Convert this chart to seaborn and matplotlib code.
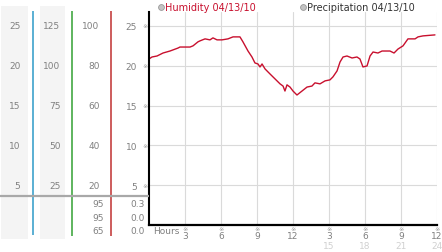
import matplotlib
matplotlib.use("Agg")
import matplotlib.pyplot as plt
from matplotlib.lines import Line2D
from matplotlib.patches import Rectangle
import seaborn as sns

# ---- data ----
hours = [0.0, 0.25, 0.67, 1.17, 1.75, 2.42, 2.58, 3.42, 3.67, 4.08, 4.25, 4.67,
         5.08, 5.33, 5.67, 6.08, 6.58, 7.0, 7.58, 7.83, 8.25, 8.58, 8.83, 9.08,
         9.25, 9.42, 9.67, 10.08, 10.5, 10.92, 11.17, 11.33, 11.5, 11.75, 12.0,
         12.33, 12.75, 13.17, 13.58, 13.83, 14.25, 14.67, 15.08, 15.33, 15.67,
         15.92, 16.17, 16.5, 16.92, 17.33, 17.58, 17.83, 18.17, 18.42, 18.67,
         19.08, 19.42, 19.67, 20.08, 20.42, 20.75, 21.17, 21.58, 22.17, 22.42,
         22.83, 23.83]
humidity = [83.4, 84.4, 84.9, 86.4, 87.4, 88.9, 89.4, 89.4, 90.0, 92.0, 92.5, 93.5,
            93.0, 94.0, 93.0, 93.0, 93.5, 94.5, 94.5, 92.0, 87.4, 84.4, 81.4, 80.9,
            79.4, 80.9, 78.4, 75.9, 73.4, 70.9, 69.8, 67.3, 70.4, 69.3, 67.3,
            65.3, 67.3, 69.3, 69.8, 71.4, 70.9, 72.4, 72.9, 74.4, 77.4,
            81.9, 84.4, 84.9, 83.9, 84.4, 83.4, 79.4, 79.9, 84.9, 86.9,
            86.4, 87.4, 87.4, 87.4, 86.4, 88.4, 90.0, 93.5, 93.5, 94.5,
            95.0, 95.5]

scale_a = [5, 10, 15, 20, 25]          # first column and main axis
scale_b = [25, 50, 75, 100, 125]       # second column
scale_c = [20, 40, 60, 80, 100]        # third column (humidity %)
x_ticks = [3, 6, 9, 12, 15, 18, 21, 24]
x_labels = ["3", "6", "9", "12", "3", "6", "9", "12"]
x_labels2 = ["", "", "", "", "15", "18", "21", "24"]
hum_readings = ["95", "95", "65"]
precip_readings = ["0.3", "0.0", "0.0"]
legend_labels = ["Humidity 04/13/10", "Precipitation 04/13/10"]

# ---- layout (pixels) ----
W, H = 442, 253
AX_L, AX_R, AX_T, AX_B = 149, 437, 13, 226
YMAX = 107.0
XMAX = 24.0

def py(px):
    return YMAX * (AX_B - px) / (AX_B - AX_T)

def fy(px):
    return (AX_B - px) / (AX_B - AX_T)

sns.set_theme(style="white")
plt.rcParams['font.family'] = ['DejaVu Sans']
FS = 6.5
GRAY = "#808080"
RED = "#c8102e"
MARK = "#9a9a9a"

fig = plt.figure(figsize=(W / 100, H / 100), dpi=100)
fig.patch.set_facecolor("white")

ax = fig.add_axes([AX_L / W, (H - AX_B) / H, (AX_R - AX_L) / W, (AX_B - AX_T) / H])
ax.set_facecolor("white")
sns.lineplot(x=hours, y=humidity, ax=ax, color=RED, linewidth=1.0)
ax.set_xlim(0, XMAX)
ax.set_ylim(0, YMAX)
ax.set_yticks(scale_c, labels=[str(v) for v in scale_a])
ax.set_xticks(x_ticks, labels=x_labels)
ax.tick_params(axis='y', length=0, pad=8.6, labelsize=FS, labelcolor=GRAY)
ax.tick_params(axis='x', length=0, pad=4.6, labelsize=FS, labelcolor=GRAY)
ax.grid(True, color="#dadada", linewidth=0.8)
for s in ["top", "right"]:
    ax.spines[s].set_visible(False)
ax.spines["left"].set_color("black")
ax.spines["left"].set_linewidth(1.5)
ax.spines["bottom"].set_color("black")
ax.spines["bottom"].set_linewidth(1.6)
ax.set_xlabel("")
ax.set_ylabel("")

# x tick marks (※) and second row labels
xt = ax.get_xaxis_transform()
for t, l2 in zip(x_ticks, x_labels2):
    ax.text(t, fy(229.4), "※", transform=xt, ha="center", va="center",
            fontsize=4.6, color=MARK, clip_on=False)
    if l2:
        ax.text(t, fy(246.5), l2, transform=xt, ha="center", va="center",
                fontsize=FS, color="#d0d0d0", clip_on=False)
ax.text(4 / (AX_R - AX_L), fy(231.5), "Hours", transform=ax.transAxes,
        ha="left", va="center", fontsize=FS, color=GRAY, clip_on=False)

# ---- side panel ----
side = fig.add_axes([0, 0, AX_L / W, 1])
side.set_xlim(0, AX_L)
side.set_ylim(py(H), py(0))
side.axis("off")
side.add_patch(Rectangle((1, py(240)), 27, py(7) - py(240), color="#f4f4f4", lw=0))
side.add_patch(Rectangle((40, py(240)), 25, py(7) - py(240), color="#f4f4f4", lw=0))
for xc, col, bot in [(33, "#2e9ac8", 236), (72, "#33a033", 237), (111, "#c03030", 237)]:
    side.plot([xc, xc], [py(12), py(bot)], color=col, lw=1.1, solid_capstyle="butt")
side.plot([0, AX_L], [py(197), py(197)], color="#a8a8a8", lw=1.6, solid_capstyle="butt")

for pos, a, b in zip(scale_c, scale_a, scale_b):
    side.text(20.5, pos, str(a), ha="right", va="center", fontsize=FS, color=GRAY)
    side.text(60.5, pos, str(b), ha="right", va="center", fontsize=FS, color=GRAY)
    side.text(99.5, pos, str(pos), ha="right", va="center", fontsize=FS, color=GRAY)
    side.text(145.5, pos, "※", ha="center", va="center", fontsize=4.6, color=MARK)

for ypx, h, p in zip([205, 218.5, 232], hum_readings, precip_readings):
    side.text(104, py(ypx), h, ha="right", va="center", fontsize=FS, color=GRAY)
    side.text(144.5, py(ypx), p, ha="right", va="center", fontsize=FS, color=GRAY)

# ---- legend ----
for mx, lab, col in [(161, legend_labels[0], RED), (303, legend_labels[1], "#333333")]:
    fig.add_artist(Line2D([mx / W], [1 - 7.5 / H], marker="o", markersize=4.2,
                          markerfacecolor="#c4c4c4", markeredgecolor="#999999",
                          markeredgewidth=0.6, transform=fig.transFigure))
    fig.text((mx + 4) / W, 1 - 8 / H, lab, ha="left", va="center",
             fontsize=7, color=col)

fig.savefig("out.png", dpi=100)
